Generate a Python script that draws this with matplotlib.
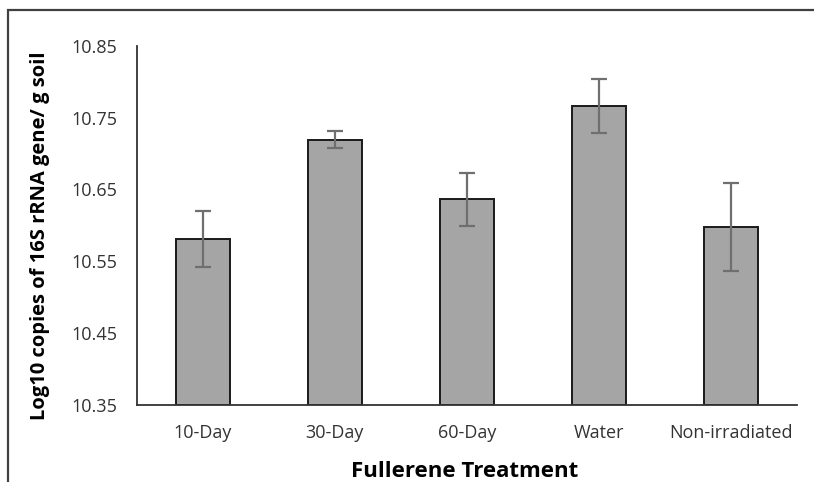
import numpy as np
import matplotlib.pyplot as plt
from matplotlib.patches import Rectangle

treatments = ['10-Day', '30-Day', '60-Day', 'Water', 'Non-irradiated']
log_copies = [10.581, 10.719, 10.636, 10.766, 10.598]
std_err = [0.039, 0.012, 0.037, 0.038, 0.061]
y_ticks = [10.35, 10.45, 10.55, 10.65, 10.75, 10.85]

plt.rcParams['font.family'] = ['Open Sans', 'DejaVu Sans']

fig = plt.figure(figsize=(8.14, 4.82), dpi=100)
ax = fig.add_axes([0.168, 0.160, 0.811, 0.745])

x = np.arange(len(treatments))
ax.bar(x, [v - y_ticks[0] for v in log_copies], bottom=y_ticks[0], width=0.405,
       color='#a5a5a5', edgecolor='#1a1a1a', linewidth=1.4, zorder=2)
ax.errorbar(x, log_copies, yerr=std_err, fmt='none', ecolor='#6f6f6f',
            elinewidth=1.6, capsize=5.5, capthick=1.6, zorder=3)

ax.set_xlim(-0.5, len(treatments) - 0.5)
ax.set_ylim(y_ticks[0], y_ticks[-1])
ax.set_yticks(y_ticks)
ax.set_yticklabels([f'{t:.2f}' for t in y_ticks])
ax.set_xticks(x)
ax.set_xticklabels(treatments)
ax.tick_params(axis='both', length=0, labelsize=13, colors='#333333')
ax.tick_params(axis='y', pad=14)
ax.tick_params(axis='x', pad=14)

for side in ['top', 'right']:
    ax.spines[side].set_visible(False)
for side in ['left', 'bottom']:
    ax.spines[side].set_color('#333333')
    ax.spines[side].set_linewidth(1.3)

ax.set_xlabel('Fullerene Treatment', fontsize=16, fontweight='bold')
ax.set_ylabel('Log10 copies of 16S rRNA gene/ g soil', fontsize=14.5,
              fontweight='bold')
ax.xaxis.set_label_coords(0.496, -0.157)
ax.yaxis.set_label_coords(-0.131, 0.47)

# outer border of the original chart frame (cut off at right and bottom)
fig.patches.append(Rectangle((8 / 814, -0.1), 1.2, 1 - 10 / 482 + 0.1,
                             transform=fig.transFigure, fill=False,
                             edgecolor='#404040', linewidth=1.6))

fig.savefig('out.png', dpi=100)
